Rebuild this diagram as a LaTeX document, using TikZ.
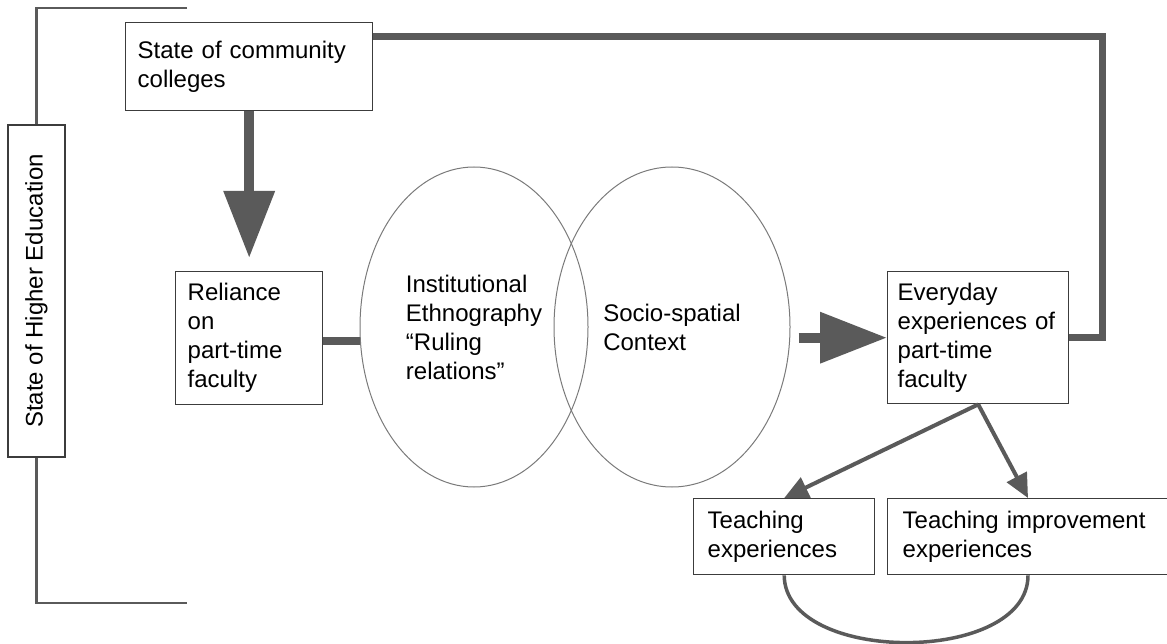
\documentclass[tikz,border=0pt]{standalone}
\usepackage{fontspec}
\setmainfont{Liberation Sans}
\usetikzlibrary{arrows.meta,shapes.geometric}
\definecolor{linegray}{HTML}{5A5A5A}
\definecolor{boxgray}{HTML}{3C3C3C}
\definecolor{ovalgray}{HTML}{7A7A7A}
\begin{document}
\begin{tikzpicture}[x=1pt,y=-1pt,
	every node/.style={font=\fontsize{24}{29}\selectfont},
	box/.style={draw=boxgray,line width=1.4pt,fill=white,align=left,inner xsep=12pt,inner ysep=0pt,anchor=north west},
	oval/.style={ellipse,draw=ovalgray,line width=1pt,align=left,inner sep=0pt,minimum height=320pt},
	bigarrow/.style={draw=linegray,line width=10pt,-{Triangle[length=67pt,width=49pt]}},
	thinarrow/.style={draw=linegray,line width=4pt,-{Triangle[length=24pt,width=22pt]}},
	bracket/.style={draw=linegray,line width=2.5pt}]
	\useasboundingbox (0,0) rectangle (1167,644);
	\clip (0,0) rectangle (1167,644);
	\node[box,text width=223pt,minimum height=88pt] (state) at (125,22) {State of community\\colleges};
	\node[box,text width=123pt,minimum height=133pt] (reliance) at (175,271) {Reliance\\on\\part-time\\faculty};
	\node[box,inner xsep=10pt,text width=161pt,minimum height=132pt] (everyday) at (887,271) {Everyday\\experiences of\\part-time\\faculty};
	\node[box,inner xsep=14pt,text width=153pt,minimum height=76pt] (teaching) at (693,498) {Teaching\\experiences};
	\node[box,inner xsep=15pt,text width=330pt,minimum height=76pt] (improve) at (887,498) {Teaching improvement\\experiences};
	\node[draw=boxgray,line width=1.4pt,rotate=90,minimum width=332pt,minimum height=57pt,inner sep=0pt] (higher) at (36.5,291) {State of Higher Education};
	\node[oval,minimum width=228pt] (inst) at (474,327) {Institutional\\Ethnography\\``Ruling\\relations''};
	\node[oval,minimum width=236pt] (socio) at (672,327) {Socio-spatial\\Context};
	\draw[bracket] (187,8) -- (36.5,8) -- (higher.east);
	\draw[bracket] (higher.west) -- (36.5,603) -- (187,603);
	\draw[bigarrow,shorten >=13pt] (state.south) -- (reliance.north);
	\draw[draw=linegray,line width=8pt] ([yshift=-3pt]reliance.east) -- ([yshift=-3pt]reliance.east -| inst.west);
	\draw[bigarrow,shorten <=8pt] (socio.east |- everyday.west) -- (everyday.west);
	\draw[draw=linegray,line width=7pt] (everyday.east) -- ++(33,0) |- ([yshift=30pt]state.east);
	\draw[thinarrow] (everyday.south) -- (teaching.north);
	\draw[thinarrow] (everyday.south) -- ([xshift=-2pt]improve.north west -| 1030,0);
	\draw[draw=linegray,line width=3.5pt] (teaching.south) .. controls (785,665) and (1028,665) .. (improve.south west -| 1028,0);
\end{tikzpicture}
\end{document}
